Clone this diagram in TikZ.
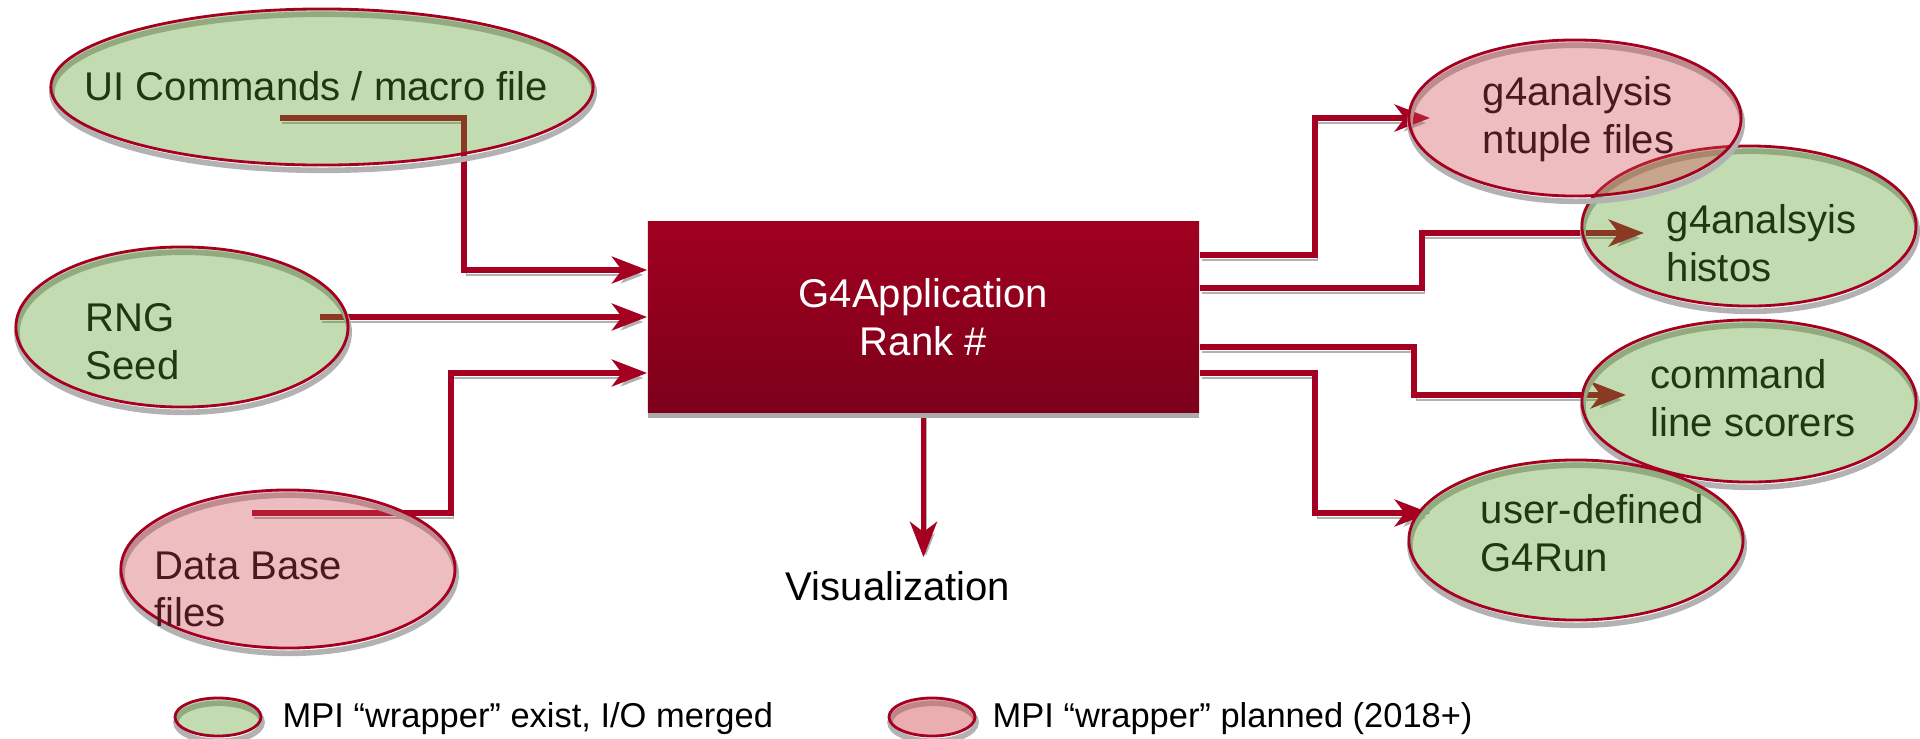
\documentclass[tikz,border=0pt]{standalone}
\usepackage{fontspec}
\setmainfont{Liberation Sans}
\usepackage{tikz}
\usetikzlibrary{calc}
\usetikzlibrary{shapes.geometric}
\usetikzlibrary{shadows}
\usetikzlibrary{arrows.meta}
\pgfdeclarelayer{back}
\pgfsetlayers{back,main}
\definecolor{g4red}{RGB}{165,0,33}
\definecolor{g4green}{RGB}{93,158,41}
\definecolor{g4pink}{RGB}{209,76,82}
\definecolor{g4greentext}{RGB}{30,56,16}
\definecolor{g4pinktext}{RGB}{76,24,32}
\definecolor{g4boxtop}{RGB}{160,0,32}
\definecolor{g4boxbot}{RGB}{125,0,26}
\tikzset{
    blob/.style={ellipse, draw=g4red, line width=0.8pt, fill opacity=0.37, inner sep=0pt,
        preaction={draw=black!30, line width=1.6pt, transform canvas={shift={(0.3pt,-1.5pt)}}}},
    wire/.style={draw=g4red, line width=1.7pt, -{Stealth[length=10pt, width=7.6pt, inset=2.8pt]},
        preaction={draw=black!30, transform canvas={shift={(0.7pt,-1.4pt)}}}},
    appbox/.style={rectangle, minimum width=5.51cm, minimum height=1.90cm, top color=g4boxtop, bottom color=g4boxbot,
        text=white, align=center, font=\fontsize{11.4pt}{13.5pt}\selectfont,
        drop shadow={shadow xshift=0pt, shadow yshift=-1.6pt, fill=black!33, opacity=1}},
    lbl/.style={anchor=north west, inner sep=0pt, align=left, font=\fontsize{11.4pt}{13.5pt}\selectfont},
    legend/.style={anchor=base west, inner sep=0pt, font=\fontsize{9.8pt}{12pt}\selectfont}
}

\begin{document}
\begin{tikzpicture}[x=0.01cm, y=-0.01cm]
\useasboundingbox (0,0) rectangle (1920,739);
\node[appbox] (box) at (923.5,317) {G4Application\\Rank \#};
\foreach \n/\x/\y/\w/\h/\c in {hist/1749/226/3.34/1.60/g4green, ntup/1575/118/3.32/1.56/g4pink, ui/322/87/5.42/1.56/g4green, rng/182/327/3.32/1.60/g4green, db/288/569/3.34/1.58/g4pink, cmd/1749/401/3.34/1.62/g4green, user/1576/540/3.34/1.60/g4green}{
\node[blob, fill=\c, minimum width=\w cm, minimum height=\h cm] (\n) at (\x,\y) {};
}
\node[lbl, anchor=base west, text=g4greentext] (ui-txt) at (84,100) {UI Commands / macro file};
\foreach \n/\x/\y/\c/\t in {rng/85/303/g4greentext/{RNG\\Seed}, db/154/551/g4pinktext/{Data Base\\files}, ntup/1482/76/g4pinktext/{g4analysis\\ntuple files}, hist/1666/204/g4greentext/{g4analsyis\\histos}, cmd/1650/359/g4greentext/{command\\line scorers}, user/1480/494/g4greentext/{user-defined\\G4Run}}{
\node[lbl, text=\c] (\n-txt) at (\x,\y) {\t};
}
\node[lbl, anchor=base] (vis) at (898,600) {Visualization};
\begin{pgfonlayer}{back}
\draw[wire] ($(ui)+(-42,31)$) -- ++(184,0) |- ($(box.west)+(0,-47)$);
\draw[wire] ($(rng)+(138,-10)$) -- (box.west);
\draw[wire] ($(db)+(-36,-56)$) -- ++(199,0) |- ($(box.west)+(0,56)$);
\draw[wire] ($(box.east)+(0,-62)$) -- ++(115,0) |- ($(ntup)+(-145,0)$);
\draw[wire] ($(box.east)+(0,-29)$) -- ++(222,0) |- ($(hist)+(-105,7)$);
\draw[wire] ($(box.east)+(0,30)$) -- ++(214,0) |- ($(cmd)+(-123,-6)$);
\draw[wire] ($(box.east)+(0,56)$) -- ++(115,0) |- ($(user)+(-146,-27)$);
\draw[wire] (box.south) -- ($(box.south |- vis.north)+(0,-13)$);
\end{pgfonlayer}
\node[blob, fill=g4green, minimum width=0.86cm, minimum height=0.38cm] (leg-green) at (218,717) {};
\node[legend] (leg-green-txt) at (282,727) {MPI “wrapper” exist, I/O merged};
\node[blob, fill=g4pink, fill opacity=0.45, minimum width=0.86cm, minimum height=0.38cm] (leg-pink) at (932,717) {};
\node[legend] (leg-pink-txt) at (992,727) {MPI “wrapper” planned (2018+)};
\end{tikzpicture}
\end{document}
